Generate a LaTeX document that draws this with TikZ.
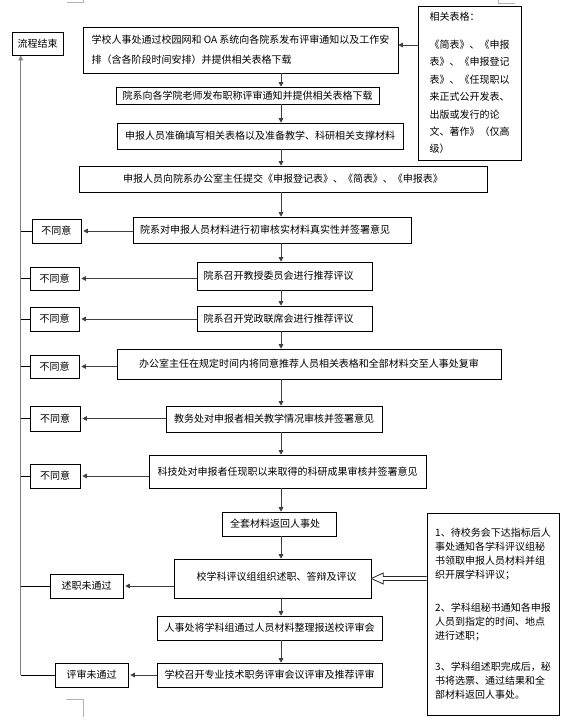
\documentclass[tikz,border=0pt]{standalone}
\usepackage{fontspec}
\setmainfont{Noto Sans CJK SC}
\usetikzlibrary{arrows.meta,calc}
\begin{document}
\begin{tikzpicture}[x=1pt,y=-1pt,
  box/.style={draw=black, line width=0.6pt, inner sep=0pt, font=\fontsize{10}{12}\selectfont},
  arr/.style={draw=black!75, line width=0.8pt, -{Triangle[length=4.5pt,width=4.5pt]}},
  larr/.style={arr, shorten >=2pt},
  stub/.style={draw=black, line width=0.6pt},
  spine/.style={draw=black!50, line width=1.3pt},
  pagemark/.style={draw=black!30, line width=0.6pt}]
\useasboundingbox (0,0) rectangle (570,723);
\fill[white] (0,0) rectangle (570,723);

% page marks
\draw[pagemark] (67,2.7) -- (83,2.7) -- (83,0);
\draw[pagemark] (498,0) -- (498,3) -- (515,3);
\draw[pagemark] (66,699) -- (83,699) -- (83,717);

% main boxes
\node[box, minimum width=51pt, minimum height=23pt] (end) at (37.5,43.5) {流程结束};
\node[box, minimum width=315pt, minimum height=46pt, align=left, font=\fontsize{10}{20}\selectfont] (b1) at (240.5,50)
  {学校人事处通过校园网和 OA 系统向各院系发布评审通知以及工作安\\排（含各阶段时间安排）并提供相关表格下载};
\node[box, minimum width=263pt, minimum height=17pt] (b2) at (247.5,95.5) {院系向各学院老师发布职称评审通知并提供相关表格下载};
\node[box, minimum width=286pt, minimum height=26pt] (b3) at (260,136) {申报人员准确填写相关表格以及准备教学、科研相关支撑材料};
\node[box, minimum width=408pt, minimum height=26pt] (b4) at (283,179) {申报人员向院系办公室主任提交《申报登记表》、《简表》、《申报表》};
\node[box, minimum width=278pt, minimum height=26pt] (b5) at (272,230) {\hspace*{-14pt}院系对申报人员材料进行初审核实材料真实性并签署意见};
\node[box, minimum width=175pt, minimum height=28pt] (b6) at (284.5,276) {\hspace*{-12pt}院系召开教授委员会进行推荐评议};
\node[box, minimum width=175pt, minimum height=25pt] (b7) at (284.5,318.5) {\hspace*{-12pt}院系召开党政联席会进行推荐评议};
\node[box, minimum width=384pt, minimum height=30pt] (b8) at (309,364) {办公室主任在规定时间内将同意推荐人员相关表格和全部材料交至人事处复审};
\node[box, minimum width=216pt, minimum height=26pt] (b9) at (274,419) {教务处对申报者相关教学情况审核并签署意见};
\node[box, minimum width=277pt, minimum height=33pt] (b10) at (287.5,471.5) {科技处对申报者任现职以来取得的科研成果审核并签署意见};
\node[box, minimum width=114pt, minimum height=24pt] (b11) at (279,524) {\hspace*{-8pt}全套材料返回人事处};
\node[box, minimum width=197pt, minimum height=39pt] (b12) at (272.5,578.5) {\raisebox{5pt}{\hspace*{8pt}校学科评议组组织述职、答辩及评议}};
\node[box, minimum width=225pt, minimum height=24pt] (b13) at (269.5,628) {人事处将学科组通过人员材料整理报送校评审会};
\node[box, minimum width=225pt, minimum height=24pt] (b14) at (269.5,675) {学校召开专业技术职务评审会议评审及推荐评审};

% side boxes
\node[box, minimum width=49pt, minimum height=24pt] (n1) at (56.5,231) {不同意};
\node[box, minimum width=49pt, minimum height=23pt] (n2) at (54.5,278.5) {不同意};
\node[box, minimum width=49pt, minimum height=24pt] (n3) at (54.5,319) {不同意};
\node[box, minimum width=49pt, minimum height=23pt] (n4) at (54.5,366.5) {不同意};
\node[box, minimum width=50pt, minimum height=25pt] (n5) at (55,418.5) {不同意};
\node[box, minimum width=50pt, minimum height=24pt] (n6) at (55,476) {不同意};
\node[box, minimum width=73pt, minimum height=24pt] (f1) at (86.5,586) {述职未通过};
\node[box, minimum width=73pt, minimum height=24pt] (f2) at (91.5,675) {评审未通过};

% notes
\node[box, minimum width=103pt, minimum height=154pt, align=left, font=\fontsize{10}{17.4}\selectfont] (note1) at (469.5,83)
  {相关表格：\\[10.6pt]《简表》、《申报\\表》、《申报登记\\表》、《任现职以\\来正式公开发表、\\出版或发行的论\\文、著作》（仅高\\级）};
\node[box, minimum width=132pt, minimum height=202pt, align=left, font=\fontsize{10}{14}\selectfont] (note2) at (493,614)
  {1、待校务会下达指标后人\\事处通知各学科评议组秘\\书领取申报人员材料并组\\织开展学科评议；\\[19pt]2、学科组秘书通知各申报\\人员到指定的时间、地点\\进行述职；\\[17pt]3、学科组述职完成后，秘\\书将选票、通过结果和全\\部材料返回人事处。};

% vertical arrows
\coordinate (C) at (281,0);
\foreach \a/\b in {b1/b2,b2/b3,b3/b4,b4/b5,b5/b6,b6/b7,b7/b8,b8/b9,b9/b10,b10/b11,b11/b12,b12/b13,b13/b14}
  \draw[arr] (\a.south -| C) -- (\b.north -| C);

% left arrows
\foreach \a/\b in {b5/n1,b6/n2,b7/n3,b8/n4,b9/n5,b10/n6,b12/f1,b14/f2}
  \draw[larr] (\a.west |- \b.east) -- (\b.east);

% spine
\coordinate (L) at (20.7,0);
\draw[spine, -{Triangle[length=5pt,width=4.5pt]}] (L |- f2.west) -- (L |- end.south);
\foreach \b in {n1,n2,n3,n4,n5,n6,f1,f2}
  \draw[stub] (L |- \b.west) -- (\b.west);

% note1 -> b1
\coordinate (na) at (418,45);
\draw[arr] (note1.west |- na) -- (b1.east |- na);

% hollow arrow note2 -> b12
\coordinate (hb) at ($(b12.east)+(12,0)$);
\path (note2.west |- b12.east) coordinate (hn);
\draw[line width=0.8pt, draw=black!85, line join=miter] (b12.east) -- ($(hb)+(0,-5.5)$) -- ($(hb)+(0,-2)$) -- ($(hn)+(0,-2)$);
\draw[line width=0.8pt, draw=black!85, line join=miter] (b12.east) -- ($(hb)+(0,5.5)$) -- ($(hb)+(0,2)$) -- ($(hn)+(0,2)$);
\end{tikzpicture}
\end{document}
